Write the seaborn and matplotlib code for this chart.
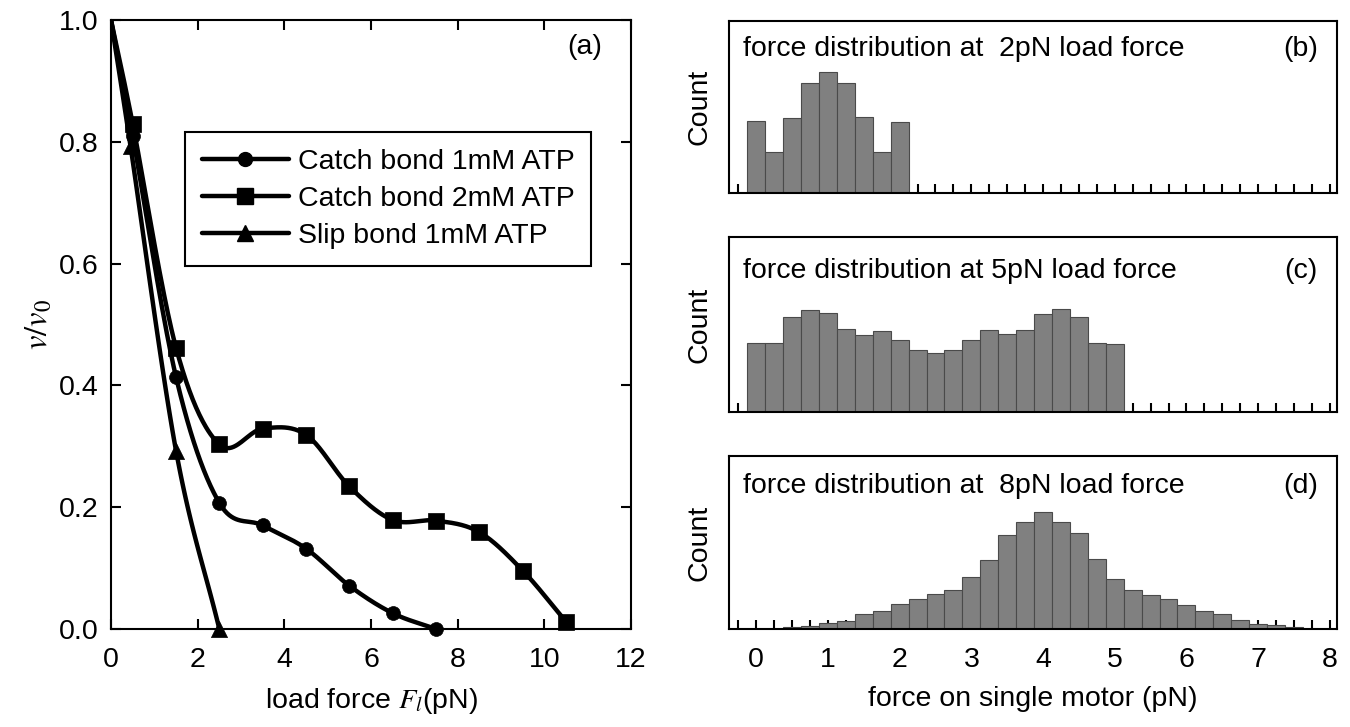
import numpy as np
import pandas as pd
import matplotlib
matplotlib.use("Agg")
import matplotlib.pyplot as plt
import seaborn as sns
from matplotlib.lines import Line2D

# ---------------- data: panel (a) ----------------
catch1_x = [0.0, 0.5, 1.5, 2.5, 3.5, 4.5, 5.5, 6.5, 7.5]
catch1_y = [1.0, 0.81, 0.414, 0.207, 0.170, 0.132, 0.071, 0.026, 0.0]
catch2_x = [0.0, 0.5, 1.5, 2.5, 3.5, 4.5, 5.5, 6.5, 7.5, 8.5, 9.5, 10.5]
catch2_y = [1.0, 0.83, 0.462, 0.303, 0.329, 0.319, 0.234, 0.179, 0.178, 0.159, 0.096, 0.012]
slip_x = [0.0, 0.45, 1.5, 2.5]
slip_y = [1.0, 0.793, 0.293, 0.0]
series_names = ["Catch bond 1mM ATP", "Catch bond 2mM ATP", "Slip bond 1mM ATP"]
series_markers = ["o", "s", "^"]

# ---------------- data: histograms (b)-(d) ----------------
bin_width = 0.25
b_centers = [0.0, 0.25, 0.5, 0.75, 1.0, 1.25, 1.5, 1.75, 2.0]
b_counts = [42, 24, 43.5, 64, 70.6, 64, 44, 24, 41]
c_centers = [0.0, 0.25, 0.5, 0.75, 1.0, 1.25, 1.5, 1.75, 2.0, 2.25, 2.5,
             2.75, 3.0, 3.25, 3.5, 3.75, 4.0, 4.25, 4.5, 4.75, 5.0]
c_counts = [39.4, 39.4, 54.3, 58.5, 56.8, 47.6, 44.2, 46.3, 41.3, 35.6, 33.7,
            35.6, 41.0, 47.0, 44.8, 47.0, 55.8, 58.7, 54.3, 39.4, 39.0]
d_centers = [0.5, 0.75, 1.0, 1.25, 1.5, 1.75, 2.0, 2.25, 2.5, 2.75, 3.0, 3.25,
             3.5, 3.75, 4.0, 4.25, 4.5, 4.75, 5.0, 5.25, 5.5, 5.75, 6.0, 6.25,
             6.5, 6.75, 7.0, 7.25, 7.5]
d_counts = [1.0, 2.0, 3.3, 4.8, 8.5, 10.4, 14.3, 17.1, 20.2, 22.5, 29.9, 39.7,
            54.5, 61.7, 67.8, 61.8, 55.3, 40.7, 29.1, 22.4, 19.7, 17.5, 14.1, 10.6,
            8.7, 5.0, 3.1, 2.1, 1.0]
hist_titles = ["force distribution at  2pN load force",
               "force distribution at 5pN load force",
               "force distribution at  8pN load force"]
hist_tags = ["(b)", "(c)", "(d)"]
hist_xticks = [0, 1, 2, 3, 4, 5, 6, 7, 8]
a_xticks = [0, 2, 4, 6, 8, 10, 12]
a_yticks = [0.0, 0.2, 0.4, 0.6, 0.8, 1.0]

# ---------------- style ----------------
sns.set_theme(style="ticks")
plt.rcParams["font.family"] = ["Liberation Sans", "DejaVu Sans"]
plt.rcParams["mathtext.fontset"] = "stix"
for key in ["text.color", "axes.labelcolor", "xtick.color", "ytick.color",
            "axes.edgecolor", "xtick.labelcolor", "ytick.labelcolor"]:
    plt.rcParams[key] = "black"
FS = 20.5


def catmull_rom(xs, ys, n=40):
    P = np.column_stack([xs, ys]).astype(float)
    P = np.vstack([2 * P[0] - P[1], P, 2 * P[-1] - P[-2]])
    t = np.linspace(0, 1, n)[:, None]
    segs = []
    for i in range(1, len(P) - 2):
        p0, p1, p2, p3 = P[i - 1], P[i], P[i + 1], P[i + 2]
        seg = 0.5 * ((2 * p1) + (-p0 + p2) * t
                     + (2 * p0 - 5 * p1 + 4 * p2 - p3) * t ** 2
                     + (-p0 + 3 * p1 - 3 * p2 + p3) * t ** 3)
        segs.append(seg if i == 1 else seg[1:])
    C = np.vstack(segs)
    return C[:, 0], C[:, 1]


W, H = 1350, 727
fig = plt.figure(figsize=(W / 100, H / 100), dpi=100)


def frac_axes(left, top, right, bottom):
    return fig.add_axes([left / W, 1 - bottom / H, (right - left) / W, (bottom - top) / H])


# ---------------- panel (a) ----------------
ax = frac_axes(111, 20, 631, 629)
msizes = [100, 125, 135]
handles = []
for xs, ys, name, mk, ms in zip([catch1_x, catch2_x, slip_x],
                                [catch1_y, catch2_y, slip_y],
                                series_names, series_markers, msizes):
    sx, sy = catmull_rom(xs, ys)
    sns.lineplot(x=sx, y=sy, ax=ax, color="black", lw=3.2, sort=False,
                 estimator=None, legend=False)
    sns.scatterplot(x=xs[1:], y=ys[1:], ax=ax, marker=mk, s=ms, color="black",
                    edgecolor="black", linewidth=0.5, clip_on=False, zorder=4,
                    legend=False)
    handles.append(Line2D([], [], color="black", lw=3.2, marker=mk,
                          markersize=np.sqrt(ms), label=name))

ax.set_xlim(0, 12)
ax.set_ylim(0, 1.0)
ax.set_xticks(a_xticks)
ax.set_yticks(a_yticks)
ax.set_yticklabels([f"{v:.1f}" for v in a_yticks])
ax.tick_params(axis="both", direction="in", length=7, width=1.5, top=True,
               right=True, labelsize=FS, color="black", labelcolor="black")
ax.tick_params(axis="x", pad=13)
ax.tick_params(axis="y", pad=9)
for sp in ax.spines.values():
    sp.set_linewidth(1.5)
    sp.set_color("black")
ax.set_xlabel(r"load force $F_l$(pN)", fontsize=FS, labelpad=9)
ax.set_ylabel(r"$\mathit{v/v_0}$", fontsize=FS + 3, labelpad=3)
ax.text(0.91, 0.955, "(a)", transform=ax.transAxes, ha="center", va="center",
        fontsize=FS)
leg = ax.legend(handles=handles, loc="upper left", bbox_to_anchor=(0.1415, 0.816),
                borderaxespad=0, fontsize=FS, handlelength=3.05, handletextpad=0.32,
                labelspacing=0.38, borderpad=0.6, fancybox=False, framealpha=1,
                edgecolor="black")
leg.get_frame().set_linewidth(1.5)

# ---------------- panels (b)-(d) ----------------
panel_rows = [(21, 193), (237, 412), (456, 629)]
title_y = [0.837, 0.806, 0.827]
hist_data = [(b_centers, b_counts), (c_centers, c_counts), (d_centers, d_counts)]
minor_ticks = [t / 4 for t in range(-1, 33)]
for k, ((top, bot), (cent, cnt)) in enumerate(zip(panel_rows, hist_data)):
    hx = frac_axes(729, top, 1337, bot)
    df = pd.DataFrame({"force": cent, "count": cnt})
    sns.histplot(data=df, x="force", weights="count", binwidth=bin_width,
                 binrange=(cent[0] - bin_width / 2, cent[-1] + bin_width / 2),
                 ax=hx, color="#808080", edgecolor="#4a4a4a", linewidth=0.8,
                 alpha=1.0)
    hx.set_xlim(-0.38, 8.10)
    hx.set_ylim(0, 100)
    hx.set_yticks([])
    hx.set_xticks(minor_ticks, minor=True)
    hx.set_xticks(hist_xticks)
    hx.tick_params(axis="x", which="both", direction="in", length=6.5, width=1.5,
                   color="black", labelcolor="black", labelsize=FS, pad=13)
    if k < 2:
        hx.set_xticklabels([])
        hx.set_xlabel("")
    else:
        hx.set_xlabel("force on single motor (pN)", fontsize=FS, labelpad=9)
    hx.set_ylabel("Count", fontsize=FS, labelpad=12)
    for sp in hx.spines.values():
        sp.set_linewidth(1.5)
        sp.set_color("black")
    hx.text(0.023, title_y[k], hist_titles[k], transform=hx.transAxes,
            ha="left", va="center", fontsize=FS)
    hx.text(0.94, title_y[k], hist_tags[k], transform=hx.transAxes,
            ha="center", va="center", fontsize=FS)

fig.savefig("out.png", dpi=100)
